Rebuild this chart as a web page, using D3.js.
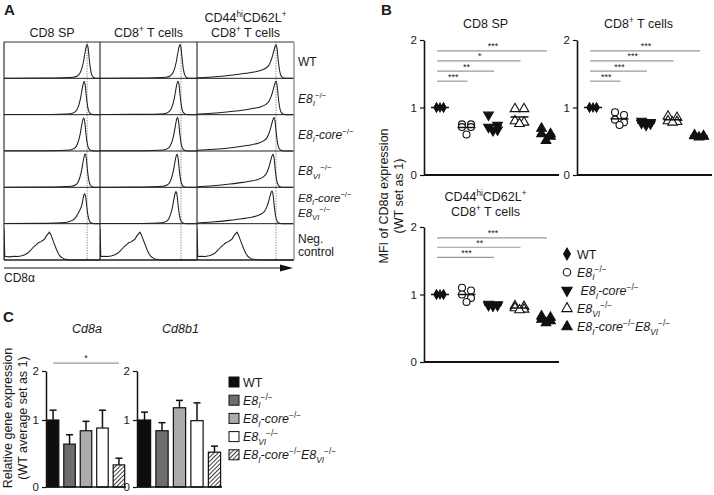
<!DOCTYPE html>
<html><head><meta charset="utf-8">
<script src="https://cdn.jsdelivr.net/npm/d3@7"></script>
<style>
body{margin:0;background:#fff}
svg{display:block}
text{font-family:"Liberation Sans",Arial,Helvetica,sans-serif;fill:#1a1a1a}
</style>
</head><body>
<svg id="c" width="714" height="495"></svg>
<script>
// ---------------- DATA ----------------
// Panel A: flow histograms
const histColumns = ["CD8 SP", "CD8+ T cells", "CD44hiCD62L+ CD8+ T cells"];
const histRowKeys = ["WT", "E8I", "E8Icore", "E8VI", "combo", "neg"];
const histPeaks = [            // peak channel per column/row (0-97 channel units)
  [84, 81, 80.5, 82, 81.5, 46],
  [80, 78, 77.5, 77, 76, 40],
  [79, 79, 77, 76, 75, 40]
];
const histPeakHeights = [
  [0.97, 0.95, 0.95, 0.96, 0.86, 1],
  [0.97, 0.96, 0.96, 0.95, 0.92, 1],
  [0.96, 0.96, 0.96, 0.95, 0.94, 1]
];
const histShapes = [
  ["narrow", "narrow", "narrow", "narrow", "shoulder", "neg"],
  ["narrow", "narrow", "narrow", "narrow", "narrow", "neg"],
  ["broad", "broad", "broad", "broad", "broad", "neg"]
];
const dottedChannel = [84, 81, 79];
const shapeNarrow = {
  off: [-97, -45, -25, -14, -10, -7.5, -5.5, -3.5, -2, -0.8, 0, 1, 2.2, 3.5, 5, 7, 10, 97],
  h:   [0.004, 0.008, 0.015, 0.03, 0.07, 0.14, 0.28, 0.52, 0.78, 0.95, 1, 0.9, 0.55, 0.25, 0.08, 0.02, 0, 0]
};
const shapeBroad = {
  off: [-97, -76, -60, -43, -30, -22, -15, -10, -7, -5, -3.5, -2, -0.8, 0, 1, 2.2, 3.5, 5, 7, 10, 97],
  h:   [0, 0.02, 0.05, 0.1, 0.15, 0.19, 0.24, 0.31, 0.4, 0.53, 0.67, 0.84, 0.96, 1, 0.9, 0.55, 0.25, 0.08, 0.02, 0, 0]
};
const shapeShoulder = {
  off: [-97, -40, -20, -14, -10, -8, -6, -4.5, -3, -1.8, -0.8, 0, 1, 2.2, 3.5, 5, 7, 10, 97],
  h:   [0, 0.01, 0.04, 0.09, 0.17, 0.26, 0.38, 0.48, 0.6, 0.8, 0.95, 1, 0.9, 0.55, 0.25, 0.08, 0.02, 0, 0]
};
const shapeNeg = {
  off: [-44, -40, -36, -32, -28, -25, -22, -19, -16, -13, -11, -9, -7, -5, -3, -1.5, 0, 1.5, 3, 5, 7, 9, 11, 13, 15, 18, 21, 25, 97],
  h:   [0.1, 0.09, 0.11, 0.1, 0.12, 0.15, 0.2, 0.28, 0.38, 0.45, 0.5, 0.52, 0.56, 0.6, 0.7, 0.75, 0.8, 0.72, 0.6, 0.45, 0.3, 0.18, 0.1, 0.06, 0.03, 0.015, 0.005, 0, 0]
};
const negSpike = 0.9;

// Panel B: MFI of CD8a (WT set as 1)
const groups = ["WT", "E8I", "E8Icore", "E8VI", "combo"];
const mfiCD8SP = [
  [1, 1, 1, 1, 1],
  [0.75, 0.75, 0.71, 0.71, 0.60],
  [0.89, 0.74, 0.71, 0.67, 0.66],
  [0.98, 0.98, 0.80, 0.78, 0.76],
  [0.69, 0.61, 0.61, 0.57, 0.51]
];
const mfiCD8T = [
  [1, 1, 1, 1, 1],
  [0.93, 0.89, 0.82, 0.78, 0.74],
  [0.80, 0.78, 0.77, 0.76, 0.74],
  [0.87, 0.85, 0.80, 0.79, 0.78],
  [0.59, 0.58, 0.58, 0.57, 0.56]
];
const mfiCD44 = [
  [1, 1, 1, 1, 1],
  [1.10, 1.06, 1.00, 0.95, 0.89],
  [0.86, 0.85, 0.84, 0.84, 0.83],
  [0.83, 0.82, 0.80, 0.78, 0.77],
  [0.68, 0.66, 0.63, 0.61, 0.58]
];
const sigCD8SP = [{to: 4, label: "***", level: 1.84}, {to: 3, label: "*", level: 1.69}, {to: 2, label: "**", level: 1.54}, {to: 1, label: "***", level: 1.39}];
const sigCD8T  = [{to: 4, label: "***", level: 1.84}, {to: 3, label: "***", level: 1.69}, {to: 2, label: "***", level: 1.54}, {to: 1, label: "***", level: 1.39}];
const sigCD44  = [{to: 4, label: "***", level: 1.84}, {to: 3, label: "**", level: 1.70}, {to: 2, label: "***", level: 1.55}];
const yTicksB = [0, 1, 2];

// Panel C: relative gene expression
const geneNames = ["Cd8a", "Cd8b1"];
const cd8aMean = [1.00, 0.64, 0.84, 0.88, 0.33];
const cd8aSem  = [0.20, 0.14, 0.14, 0.32, 0.10];
const cd8b1Mean = [1.00, 0.84, 1.25, 0.99, 0.52];
const cd8b1Sem  = [0.16, 0.12, 0.15, 0.36, 0.09];
const sigCd8a = [{from: 0, to: 4, label: "*", level: 2.16}];
const yTicksC = [0, 1, 2];

// ---------------- HELPERS ----------------
const svg = d3.select("#c");

function rich(g, x, y, segs, fs, anchor) {
  const t = g.append("text").attr("x", x).attr("y", y)
    .attr("font-size", fs).attr("text-anchor", anchor || "start");
  let shift = 0, br = null;
  segs.forEach(s => {
    if (s.br) { br = s.br; return; }
    const target = s.sub ? fs * 0.3 : s.sup ? -fs * 0.4 : 0;
    const ts = t.append("tspan").text(s.t);
    if (br !== null) { ts.attr("x", x).attr("dy", br + target - shift); br = null; }
    else ts.attr("dy", target - shift);
    shift = target;
    if (s.sub || s.sup) ts.attr("font-size", fs * 0.66);
    if (s.i) ts.attr("font-style", "italic");
  });
  return t;
}
const KO = {t: "\u2212/\u2212", sup: 1};
const lbl = {
  WT: [{t: "WT"}],
  E8I: [{t: "E8", i: 1}, {t: "I", i: 1, sub: 1}, KO],
  E8Icore: [{t: "E8", i: 1}, {t: "I", i: 1, sub: 1}, {t: "-core", i: 1}, KO],
  E8VI: [{t: "E8", i: 1}, {t: "VI", i: 1, sub: 1}, KO],
  combo: [{t: "E8", i: 1}, {t: "I", i: 1, sub: 1}, {t: "-core", i: 1}, KO, {t: "E8", i: 1}, {t: "VI", i: 1, sub: 1}, KO]
};
const cd8plusT = [{t: "CD8"}, {t: "+", sup: 1}, {t: " T cells"}];
const cd44title = [{t: "CD44"}, {t: "hi", sup: 1}, {t: "CD62L"}, {t: "+", sup: 1}];

// ---------------- PANEL A ----------------
const gA = svg.append("g");
gA.append("text").attr("x", 4).attr("y", 15).attr("font-size", 15).attr("font-weight", "bold").text("A");
const colX = [4, 100, 197, 294];
const gTop = 42, gBot = 260, nRows = histRowKeys.length, rowH = (gBot - gTop) / nRows;
const shapes = {narrow: shapeNarrow, broad: shapeBroad, shoulder: shapeShoulder};

rich(gA, (colX[0] + colX[1]) / 2, 37, [{t: "CD8 SP"}], 12.5, "middle");
rich(gA, (colX[1] + colX[2]) / 2, 37, cd8plusT, 12.5, "middle");
rich(gA, (colX[2] + colX[3]) / 2, 22, cd44title.concat([{br: 15}], cd8plusT), 12.5, "middle");

const defs = svg.append("defs");
histColumns.forEach((col, ci) => {
  const xs = d3.scaleLinear().domain([0, 97]).range([colX[ci], colX[ci + 1]]);
  defs.append("clipPath").attr("id", "clipA" + ci).append("rect")
    .attr("x", colX[ci]).attr("y", gTop - 2).attr("width", colX[ci + 1] - colX[ci]).attr("height", gBot - gTop + 4);
  const gc = gA.append("g").attr("clip-path", "url(#clipA" + ci + ")");
  gc.append("line").attr("x1", xs(dottedChannel[ci])).attr("x2", xs(dottedChannel[ci]))
    .attr("y1", gTop).attr("y2", gBot).attr("stroke", "#8a8a8a").attr("stroke-width", 1)
    .attr("stroke-dasharray", "1.3,1.3");
  histRowKeys.forEach((rk, ri) => {
    const y0 = gTop + ri * rowH, y1 = y0 + rowH;
    const ys = d3.scaleLinear().domain([0, 1]).range([y1, y0 + 1.5]);
    const shape = histShapes[ci][ri], peak = histPeaks[ci][ri], ph = histPeakHeights[ci][ri];
    let pts, curve;
    if (shape === "neg") {
      pts = [[0, 0], [0, negSpike], [0.8, shapeNeg.h[0]]]
        .concat(shapeNeg.off.map((o, i) => [peak + o, shapeNeg.h[i]]).filter(p => p[0] > 1));
      curve = d3.curveLinear;
    } else {
      const s = shapes[shape];
      pts = s.off.map((o, i) => [peak + o, s.h[i] * ph]);
      curve = d3.curveMonotoneX;
    }
    const line = d3.line().x(d => xs(d[0])).y(d => ys(d[1])).curve(curve);
    gc.append("path").attr("d", line(pts)).attr("fill", "none")
      .attr("stroke", "#1e1e1e").attr("stroke-width", 1.05);
    gc.append("line").attr("x1", colX[ci]).attr("x2", colX[ci + 1]).attr("y1", y1).attr("y2", y1)
      .attr("stroke", "#222").attr("stroke-width", ri === nRows - 1 ? 1.6 : 1);
  });
});
gA.append("line").attr("x1", colX[0]).attr("x2", colX[3]).attr("y1", gTop).attr("y2", gTop).attr("stroke", "#333").attr("stroke-width", 1);
[colX[0], colX[1], colX[2]].forEach(x => gA.append("line").attr("x1", x).attr("x2", x).attr("y1", gTop).attr("y2", gBot).attr("stroke", "#222").attr("stroke-width", 1.1));
gA.append("line").attr("x1", colX[3]).attr("x2", colX[3]).attr("y1", gTop).attr("y2", gBot).attr("stroke", "#999").attr("stroke-width", 1.5);

const rowLabelX = 298;
histRowKeys.forEach((rk, ri) => {
  const yc = gTop + ri * rowH + rowH / 2;
  if (rk === "combo") {
    rich(gA, rowLabelX, yc - 3.5, lbl.E8Icore.concat([{br: 15}], lbl.E8VI), 11.5, "start");
  } else if (rk === "neg") {
    rich(gA, rowLabelX, yc + 1, [{t: "Neg."}, {br: 13.5}, {t: "control"}], 12, "start");
  } else {
    rich(gA, rowLabelX, yc + 6, lbl[rk], 12, "start");
  }
});
gA.append("line").attr("x1", colX[0]).attr("x2", 282).attr("y1", 268).attr("y2", 268).attr("stroke", "#111").attr("stroke-width", 1);
gA.append("path").attr("d", "M280,264.5 L293,268 L280,271.5 Z").attr("fill", "#111");
rich(gA, 4, 282, [{t: "CD8\u03b1"}], 12, "start");

// ---------------- PANEL B ----------------
const gB = svg.append("g");
gB.append("text").attr("x", 381).attr("y", 15).attr("font-size", 15).attr("font-weight", "bold").text("B");
const spread = [-1, 1, -1, 1, 0];
const sym = {
  WT: {type: d3.symbolDiamond, size: 22, fill: "#111", rot: 0, sp: 3.5},
  E8I: {type: d3.symbolCircle, size: 38, fill: "#fff", rot: 0, sp: 4.5},
  E8Icore: {type: d3.symbolTriangle, size: 40, fill: "#111", rot: 180, sp: 4.5},
  E8VI: {type: d3.symbolTriangle, size: 40, fill: "#fff", rot: 0, sp: 4.5},
  combo: {type: d3.symbolTriangle, size: 40, fill: "#111", rot: 0, sp: 4.5}
};

function scatterPlot(x0, x1, yBottom, yTop, data, sigs, titleSegs, titleY) {
  const g = gB.append("g");
  const y = d3.scaleLinear().domain([0, 2]).range([yBottom, yTop]);
  const x = d3.scalePoint().domain(groups).range([x0 + 16, x0 + 122]);
  const ax = g.append("g").attr("transform", `translate(${x0},0)`)
    .call(d3.axisLeft(y).tickValues(yTicksB).tickSize(4).tickSizeOuter(0).tickPadding(3).tickFormat(d3.format("d")));
  ax.select(".domain").attr("stroke", "#111").attr("stroke-width", 1.6);
  ax.selectAll(".tick line").attr("stroke", "#111").attr("stroke-width", 1.2);
  ax.selectAll(".tick text").attr("font-size", 11.5).attr("fill", "#222")
    .attr("font-family", '"Liberation Sans",Arial,sans-serif');
  g.append("line").attr("x1", x0).attr("x2", x1).attr("y1", yBottom).attr("y2", yBottom)
    .attr("stroke", "#111").attr("stroke-width", 2);
  rich(g, (x0 + x1) / 2 - 6, titleY, titleSegs, 12.5, "middle");
  sigs.forEach(s => {
    const yy = y(s.level);
    g.append("line").attr("x1", x(groups[0]) - 3).attr("x2", x(groups[s.to]) + 1)
      .attr("y1", yy).attr("y2", yy).attr("stroke", "#9a9a9a").attr("stroke-width", 1.2);
    g.append("text").attr("x", (x(groups[0]) + x(groups[s.to])) / 2).attr("y", yy - 1.5)
      .attr("text-anchor", "middle").attr("font-size", 9).attr("fill", "#444").text(s.label);
  });
  groups.forEach((gk, gi) => {
    const vals = data[gi];
    const st = sym[gk];
    const sGen = d3.symbol().type(st.type).size(st.size);
    vals.forEach((v, i) => {
      g.append("path").attr("d", sGen())
        .attr("transform", `translate(${x(gk) + spread[i] * st.sp},${y(v)}) rotate(${st.rot})`)
        .attr("fill", st.fill).attr("stroke", "#111").attr("stroke-width", 1.1);
    });
    const m = d3.mean(vals);
    g.append("line").attr("x1", x(gk) - 9).attr("x2", x(gk) + 9).attr("y1", y(m)).attr("y2", y(m))
      .attr("stroke", "#111").attr("stroke-width", 1.5);
  });
}
scatterPlot(424, 559, 175, 40, mfiCD8SP, sigCD8SP, [{t: "CD8 SP"}], 28);
scatterPlot(577, 712, 175, 40, mfiCD8T, sigCD8T, cd8plusT, 28);
scatterPlot(424, 559, 362, 227, mfiCD44, sigCD44, cd44title.concat([{br: 15}], cd8plusT), 201);
gB.append("text").attr("transform", "translate(388,196) rotate(-90)").attr("text-anchor", "middle")
  .attr("font-size", 12.5).attr("fill", "#333")
  .call(t => {
    t.append("tspan").attr("x", 0).attr("dy", 0).text("MFI of CD8\u03b1 expression");
    t.append("tspan").attr("x", 0).attr("dy", 15).text("(WT set as 1)");
  });
groups.forEach((gk, i) => {
  const yy = 254 + i * 18.2;
  const st = sym[gk];
  gB.append("path").attr("d", d3.symbol().type(st.type).size(gk === "WT" ? 40 : st.size * 1.15)())
    .attr("transform", `translate(567,${yy}) rotate(${st.rot})`)
    .attr("fill", st.fill).attr("stroke", "#111").attr("stroke-width", 1.1);
  const segs = gk === "E8Icore" ? [{t: "\u00a0"}].concat(lbl[gk]) : lbl[gk];
  rich(gB, 577, yy + 4.5, segs, 12.5, "start");
});

// ---------------- PANEL C ----------------
const gC = svg.append("g");
gC.append("text").attr("x", 3).attr("y", 322).attr("font-size", 15).attr("font-weight", "bold").text("C");
const pat = defs.append("pattern").attr("id", "hatch").attr("patternUnits", "userSpaceOnUse")
  .attr("width", 3).attr("height", 3).attr("patternTransform", "rotate(45)");
pat.append("rect").attr("width", 3).attr("height", 3).attr("fill", "#fff");
pat.append("line").attr("x1", 0).attr("x2", 0).attr("y1", 0).attr("y2", 3).attr("stroke", "#111").attr("stroke-width", 1.6);
const barFill = {WT: "#0d0d0d", E8I: "#6e6e6e", E8Icore: "#ababab", E8VI: "#ffffff", combo: "url(#hatch)"};
const yC = d3.scaleLinear().domain([0, 1, 2]).range([487, 420, 371]);

function barPlot(x0, x1, means, sems, title, sigs) {
  const g = gC.append("g");
  const x = d3.scaleBand().domain(groups).range([x0, x1]).paddingInner(0.3).paddingOuter(0.08);
  const ax = g.append("g").attr("transform", `translate(${x0},0)`)
    .call(d3.axisLeft(yC).tickValues(yTicksC).tickSize(4).tickSizeOuter(0).tickPadding(3).tickFormat(d3.format("d")));
  ax.select(".domain").attr("stroke", "#111").attr("stroke-width", 1.5);
  ax.selectAll(".tick line").attr("stroke", "#111").attr("stroke-width", 1.2);
  ax.selectAll(".tick text").attr("font-size", 11.5).attr("fill", "#222")
    .attr("font-family", '"Liberation Sans",Arial,sans-serif');
  groups.forEach((gk, i) => {
    const cx = x(gk) + x.bandwidth() / 2;
    const top = yC(means[i] + sems[i]);
    g.append("line").attr("x1", cx).attr("x2", cx).attr("y1", yC(means[i])).attr("y2", top)
      .attr("stroke", "#111").attr("stroke-width", 1.5);
    g.append("line").attr("x1", cx - 3.5).attr("x2", cx + 3.5).attr("y1", top).attr("y2", top)
      .attr("stroke", "#111").attr("stroke-width", 1.5);
    g.append("rect").attr("x", x(gk)).attr("y", yC(means[i])).attr("width", x.bandwidth())
      .attr("height", yC(0) - yC(means[i])).attr("fill", barFill[gk]).attr("stroke", "#111").attr("stroke-width", 1.2);
  });
  g.append("line").attr("x1", x0).attr("x2", x1).attr("y1", yC(0)).attr("y2", yC(0))
    .attr("stroke", "#111").attr("stroke-width", 1.6);
  g.append("text").attr("x", (x0 + x1) / 2 + 1).attr("y", 333).attr("text-anchor", "middle")
    .attr("font-size", 12.5).attr("font-style", "italic").text(title);
  sigs.forEach(s => {
    const a = x(groups[s.from]) + x.bandwidth() / 2, b = x(groups[s.to]) + x.bandwidth() / 2;
    g.append("line").attr("x1", a).attr("x2", b).attr("y1", yC(s.level)).attr("y2", yC(s.level))
      .attr("stroke", "#9a9a9a").attr("stroke-width", 1.2);
    g.append("text").attr("x", (a + b) / 2).attr("y", yC(s.level) - 2).attr("text-anchor", "middle")
      .attr("font-size", 9).attr("fill", "#444").text(s.label);
  });
}
barPlot(46, 126, cd8aMean, cd8aSem, geneNames[0], sigCd8a);
barPlot(137, 222, cd8b1Mean, cd8b1Sem, geneNames[1], []);
gC.append("text").attr("transform", "translate(12,418) rotate(-90)").attr("text-anchor", "middle")
  .attr("font-size", 12.5).attr("fill", "#333")
  .call(t => {
    t.append("tspan").attr("x", 0).attr("dy", 0).text("Relative gene expression");
    t.append("tspan").attr("x", 0).attr("dy", 15).text("(WT average set as 1)");
  });
groups.forEach((gk, i) => {
  const yy = 382 + i * 18.2;
  gC.append("rect").attr("x", 229).attr("y", yy - 5).attr("width", 10).attr("height", 10)
    .attr("fill", barFill[gk]).attr("stroke", "#111").attr("stroke-width", 1);
  rich(gC, 243, yy + 4.5, lbl[gk], 12.5, "start");
});
</script>
</body></html>
